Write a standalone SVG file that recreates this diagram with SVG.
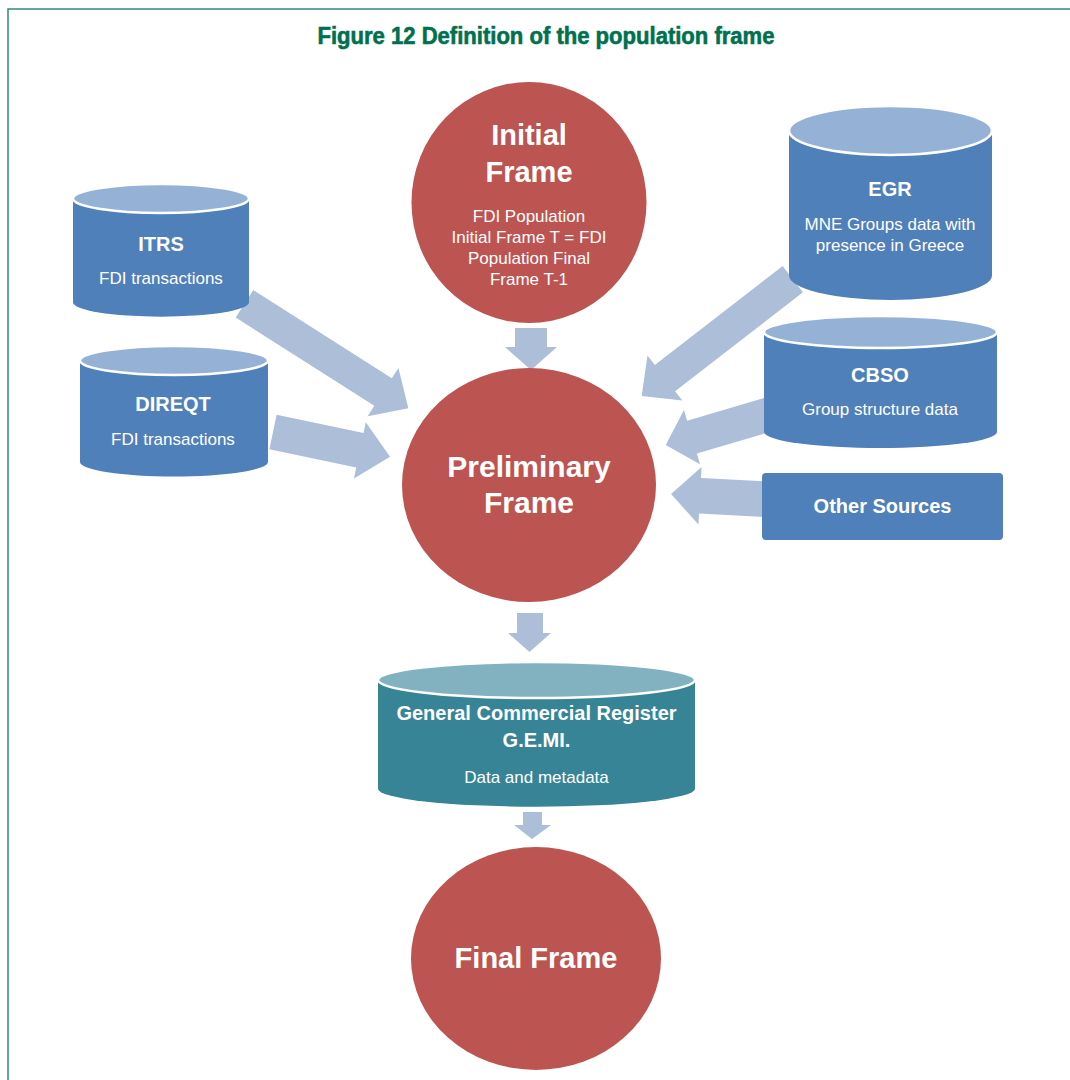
<svg xmlns="http://www.w3.org/2000/svg" width="1070" height="1080" viewBox="0 0 1070 1080">
<style>
.circ{fill:#bc5451}
.body{fill:#4f80b9}
.top{fill:#95b2d6;stroke:#fff;stroke-width:2.5}
.gbody{fill:#378497}
.gtop{fill:#82b2c0;stroke:#fff;stroke-width:2.5}
.arr{fill:#adbed9}
.big{font-family:"Liberation Sans",Arial,sans-serif;font-weight:bold;fill:#fff;text-anchor:middle}
.lbl{font-family:"Liberation Sans",Arial,sans-serif;font-weight:bold;font-size:20px;fill:#fff;text-anchor:middle}
.sm{font-family:"Liberation Sans",Arial,sans-serif;font-size:17px;fill:#fff;text-anchor:middle}
</style>
<rect width="1070" height="1080" fill="#fff"/>
<path d="M8,1080 V9 H1070" fill="none" stroke="#2e8c78" stroke-width="1.5"/>
<text x="546" y="44" font-family="'Liberation Sans Narrow','Liberation Sans',sans-serif" font-weight="bold" font-size="23" fill="#00704f" stroke="#00704f" stroke-width="0.6" text-anchor="middle" textLength="457" lengthAdjust="spacingAndGlyphs">Figure 12 Definition of the population frame</text>

<g id="connectors">
<path class="arr" d="M515,328 H547 V347 H557 L531,370 L505,347 H515 Z"/>
<path class="arr" d="M517,613 H543 V633 H551 L529.5,652 L508,633 H517 Z"/>
<path class="arr" d="M523,812 H542 V825 H551 L532,839 L514,825 H523 Z"/>
<path class="arr" transform="translate(244.5,303.8) rotate(32.5)" d="M0,-16.3 H164.3 V-28.6 L194.3,0 L164.3,28.6 V16.3 H0 Z"/>
<path class="arr" transform="translate(273,432) rotate(11.9)" d="M0,-17.6 H88.8 V-28.7 L119.6,0 L88.8,28.7 V17.6 H0 Z"/>
<path class="arr" transform="translate(792.8,279.2) rotate(142.3)" d="M0,-16.6 H161.6 V-28.5 L191,0 L161.6,28.5 V16.6 H0 Z"/>
<path class="arr" transform="translate(790,408.1) rotate(163.5)" d="M0,-17.1 H102.2 V-28.3 L129.6,0 L102.2,28.3 V17.1 H0 Z"/>
<path class="arr" transform="translate(780.3,500) rotate(183.1)" d="M0,-17.8 H80.4 V-28.8 L109.4,0 L80.4,28.8 V17.8 H0 Z"/>
</g>

<g id="initial-frame">
<ellipse class="circ" cx="529" cy="202.5" rx="117.5" ry="120.5"/>
<text class="big" x="529" y="145" font-size="29">Initial</text>
<text class="big" x="529" y="182" font-size="29">Frame</text>
<text class="sm" x="529" y="222">FDI Population</text>
<text class="sm" x="529" y="242.5">Initial Frame T = FDI</text>
<text class="sm" x="529" y="263.5">Population Final</text>
<text class="sm" x="529" y="284.5">Frame T-1</text>
</g>

<g id="preliminary-frame">
<ellipse class="circ" cx="529" cy="485" rx="127" ry="117"/>
<text class="big" x="529" y="477" font-size="30">Preliminary</text>
<text class="big" x="529" y="513" font-size="30">Frame</text>
</g>

<g id="itrs">
<path class="body" d="M73,198.5 V302.2 A88,14.5 0 0 0 249,302.2 V198.5 Z"/>
<ellipse class="top" cx="161" cy="198.5" rx="88" ry="14.5"/>
<text class="lbl" x="161" y="251">ITRS</text>
<text class="sm" x="161" y="284">FDI transactions</text>
</g>

<g id="direqt">
<path class="body" d="M80,360.5 V462 A94,14.5 0 0 0 268,462 V360.5 Z"/>
<ellipse class="top" cx="174" cy="360.5" rx="94" ry="14.5"/>
<text class="lbl" x="173" y="411">DIREQT</text>
<text class="sm" x="173" y="445">FDI transactions</text>
</g>

<g id="egr">
<path class="body" d="M789,130.5 V275.5 A101.5,24.5 0 0 0 992,275.5 V130.5 Z"/>
<ellipse class="top" cx="890.5" cy="130.5" rx="101.5" ry="24.5"/>
<text class="lbl" x="890" y="196">EGR</text>
<text class="sm" x="890" y="230">MNE Groups data with</text>
<text class="sm" x="890" y="251">presence in Greece</text>
</g>

<g id="cbso">
<path class="body" d="M764,332 V432 A116.5,16 0 0 0 997,432 V332 Z"/>
<ellipse class="top" cx="880.5" cy="332" rx="116.5" ry="16"/>
<text class="lbl" x="880" y="382">CBSO</text>
<text class="sm" x="880" y="415">Group structure data</text>
</g>

<g id="other-sources">
<rect class="body" x="762" y="473" width="241" height="67" rx="4"/>
<text class="lbl" x="882.5" y="513" font-size="21.5">Other Sources</text>
</g>

<g id="gemi">
<path class="gbody" d="M378,680 V788.7 A158.5,18 0 0 0 695,788.7 V680 Z"/>
<ellipse class="gtop" cx="536.5" cy="680" rx="158.5" ry="18"/>
<text class="lbl" x="536.5" y="720" font-size="22">General Commercial Register</text>
<text class="lbl" x="536.5" y="747" font-size="22">G.E.MI.</text>
<text class="sm" x="536.5" y="783">Data and metadata</text>
</g>

<g id="final-frame">
<ellipse class="circ" cx="536" cy="958.5" rx="125" ry="111.5"/>
<text class="big" x="536" y="968" font-size="29">Final Frame</text>
</g>
</svg>
